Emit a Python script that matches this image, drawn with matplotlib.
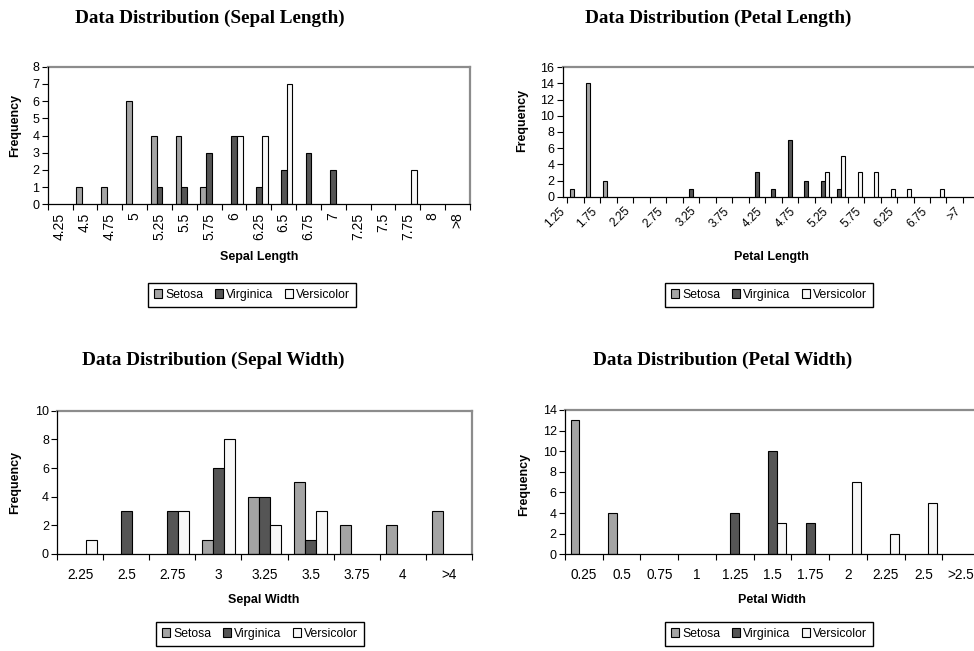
import matplotlib
matplotlib.use("Agg")
import matplotlib.pyplot as plt
import numpy as np
from matplotlib.patches import Patch

# ---------------- data ----------------
series_names = ["Setosa", "Virginica", "Versicolor"]

sl_cats = ["4.25", "4.5", "4.75", "5", "5.25", "5.5", "5.75", "6", "6.25", "6.5",
           "6.75", "7", "7.25", "7.5", "7.75", "8", ">8"]
sl_setosa = [0, 1, 1, 6, 4, 4, 1, 0, 0, 0, 0, 0, 0, 0, 0, 0, 0]
sl_virginica = [0, 0, 0, 0, 1, 1, 3, 4, 1, 2, 3, 2, 0, 0, 0, 0, 0]
sl_versicolor = [0, 0, 0, 0, 0, 0, 0, 4, 4, 7, 0, 0, 0, 0, 2, 0, 0]

pl_cats = ["1.25", "1.5", "1.75", "2", "2.25", "2.5", "2.75", "3", "3.25", "3.5",
           "3.75", "4", "4.25", "4.5", "4.75", "5", "5.25", "5.5", "5.75", "6",
           "6.25", "6.5", "6.75", "7", ">7"]
pl_setosa = [1, 14, 2, 0, 0, 0, 0, 0, 0, 0, 0, 0, 0, 0, 0, 0, 0, 0, 0, 0, 0, 0, 0, 0, 0]
pl_virginica = [0, 0, 0, 0, 0, 0, 0, 1, 0, 0, 0, 3, 1, 7, 2, 2, 1, 0, 0, 0, 0, 0, 0, 0, 0]
pl_versicolor = [0, 0, 0, 0, 0, 0, 0, 0, 0, 0, 0, 0, 0, 0, 0, 3, 5, 3, 3, 1, 1, 0, 1, 0, 0]

sw_cats = ["2.25", "2.5", "2.75", "3", "3.25", "3.5", "3.75", "4", ">4"]
sw_setosa = [0, 0, 0, 1, 4, 5, 2, 2, 3]
sw_virginica = [0, 3, 3, 6, 4, 1, 0, 0, 0]
sw_versicolor = [1, 0, 3, 8, 2, 3, 0, 0, 0]

pw_cats = ["0.25", "0.5", "0.75", "1", "1.25", "1.5", "1.75", "2", "2.25", "2.5", ">2.5"]
pw_setosa = [13, 4, 0, 0, 0, 0, 0, 0, 0, 0, 0]
pw_virginica = [0, 0, 0, 0, 4, 10, 3, 0, 0, 0, 0]
pw_versicolor = [0, 0, 0, 0, 0, 3, 0, 7, 2, 5, 0]

# ---------------- style ----------------
SANS = ["Liberation Sans", "DejaVu Sans"]
SERIF = ["Liberation Serif", "DejaVu Serif"]
plt.rcParams["font.family"] = SANS
colors = ["#a4a4a4", "#555555", "#f8f8f8"]

W, H = 974, 651
fig = plt.figure(figsize=(W / 100, H / 100), dpi=100)


def axes_px(left, top, right, bottom):
    return fig.add_axes([left / W, 1 - bottom / H, (right - left) / W, (bottom - top) / H])


def panel(ax, cats, s, vi, ve, ymax, ystep, mode):
    n = len(cats)
    x = np.arange(n)
    w = 0.235
    for off, vals, c, lab in zip([-w, 0, w], [s, vi, ve], colors, series_names):
        vals = np.array(vals, dtype=float)
        m = vals > 0
        ax.bar(x[m] + off, vals[m], width=w, color=c, edgecolor="black",
               linewidth=0.8, label=lab, zorder=3)
    ax.set_xlim(-0.5, n - 0.5)
    ax.set_ylim(0, ymax)
    ax.set_yticks(np.arange(0, ymax + 0.1, ystep))
    ax.tick_params(axis="y", direction="out", length=4, width=0.8, pad=2,
                   labelsize=9)
    # category boundary ticks
    ax.set_xticks(np.arange(n + 1) - 0.5)
    ax.tick_params(axis="x", which="major", direction="out", length=4, width=0.8,
                   labelbottom=False)
    if mode == "rot90":
        ax.set_xticks(x, cats, minor=True)
        ax.tick_params(axis="x", which="minor", length=0, pad=6, labelsize=10)
        for t in ax.get_xticklabels(minor=True):
            t.set_rotation(90)
    elif mode == "rot45":
        idx = x[::2]
        ax.set_xticks(idx - 0.78, [cats[i] for i in idx], minor=True)
        ax.tick_params(axis="x", which="minor", length=0, pad=9, labelsize=8.5)
        for t in ax.get_xticklabels(minor=True):
            t.set_rotation(45)
            t.set_ha("right")
            t.set_va("center")
            t.set_rotation_mode("anchor")
    else:
        ax.set_xticks(x, cats, minor=True)
        ax.tick_params(axis="x", which="minor", length=0, pad=10, labelsize=9.8)
    for sp in ["left", "bottom"]:
        ax.spines[sp].set_color("black")
        ax.spines[sp].set_linewidth(0.9)
    for sp in ["top", "right"]:
        ax.spines[sp].set_color("#8c8c8c")
        ax.spines[sp].set_linewidth(1.6)
    ax.spines["left"].set_zorder(4)
    ax.spines["bottom"].set_zorder(4)
    ax.set_facecolor("white")


def ftext(x, y, s, **kw):
    fig.text(x / W, 1 - y / H, s, ha="center", va="center", **kw)


def legend_at(cx, cy):
    handles = [Patch(facecolor=c, edgecolor="black", linewidth=0.8) for c in colors]
    fig.legend(handles, series_names, loc="center",
               bbox_to_anchor=(cx / W, 1 - cy / H), ncol=3, fontsize=8.8,
               frameon=True, fancybox=False, edgecolor="black", framealpha=1,
               handlelength=0.7, handleheight=0.7, handletextpad=0.25,
               columnspacing=0.9, borderpad=0.5, borderaxespad=0)


TITLE_FS = 13.8

# Panel 1: Sepal Length
ax1 = axes_px(47.7, 66.7, 470, 204.3)
panel(ax1, sl_cats, sl_setosa, sl_virginica, sl_versicolor, 8, 1, "rot90")
ftext(210, 18, "Data Distribution (Sepal Length)", fontsize=TITLE_FS, fontweight="bold", family=SERIF)
ftext(15, 125, "Frequency", fontsize=9, fontweight="bold", rotation=90)
ftext(259, 257, "Sepal Length", fontsize=9, fontweight="bold")
legend_at(252, 295)

# Panel 2: Petal Length
ax2 = axes_px(562.7, 67.3, 562.7 + 25 * 16.67, 196.7)
panel(ax2, pl_cats, pl_setosa, pl_virginica, pl_versicolor, 16, 2, "rot45")
ftext(718, 18, "Data Distribution (Petal Length)", fontsize=TITLE_FS, fontweight="bold", family=SERIF)
ftext(522, 120, "Frequency", fontsize=9, fontweight="bold", rotation=90)
ftext(771, 257, "Petal Length", fontsize=9, fontweight="bold")
legend_at(769, 295)

# Panel 3: Sepal Width
ax3 = axes_px(57.3, 410.7, 471.7, 554)
panel(ax3, sw_cats, sw_setosa, sw_virginica, sw_versicolor, 10, 2, "flat")
ftext(213, 360, "Data Distribution (Sepal Width)", fontsize=TITLE_FS, fontweight="bold", family=SERIF)
ftext(15, 482, "Frequency", fontsize=9, fontweight="bold", rotation=90)
ftext(264, 600, "Sepal Width", fontsize=9, fontweight="bold")
legend_at(260, 634)

# Panel 4: Petal Width
ax4 = axes_px(565, 410, 565 + 11 * 37.73, 554.3)
panel(ax4, pw_cats, pw_setosa, pw_virginica, pw_versicolor, 14, 2, "flat")
ftext(723, 360, "Data Distribution (Petal Width)", fontsize=TITLE_FS, fontweight="bold", family=SERIF)
ftext(524, 484, "Frequency", fontsize=9, fontweight="bold", rotation=90)
ftext(772, 600, "Petal Width", fontsize=9, fontweight="bold")
legend_at(769, 634)

fig.savefig("out.png", dpi=100, facecolor="white")
